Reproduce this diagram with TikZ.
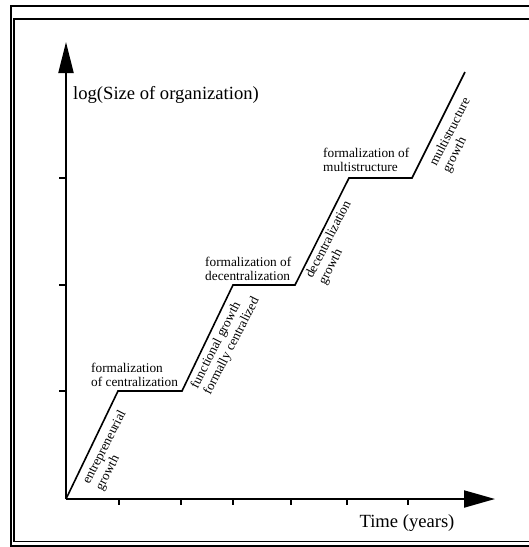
\documentclass[tikz,border=0pt]{standalone}
\usepackage{fontspec}
\setmainfont{Liberation Serif}
\usetikzlibrary{arrows.meta}
\begin{document}
\begin{tikzpicture}[x=1pt,y=-1pt,
  axis/.style={line width=2pt},
  growthline/.style={line width=1.6pt, line join=miter},
  tickmark/.style={line width=2pt},
  frameline/.style={line width=1.3pt},
  stage/.style={font=\fontsize{13.3}{14.5}\selectfont, align=left, inner sep=0pt, anchor=west},
  slopelabel/.style={stage, rotate=63},
  axislabel/.style={font=\fontsize{18.6}{20}\selectfont, inner sep=0pt},
]
\useasboundingbox (0,0) rectangle (529,547);

% double frame (right side runs off the page)
\draw[frameline] (540,6) -- (11,6) -- (11,546) -- (540,546);
\draw[frameline] (540,19) -- (14,19) -- (14,541.5) -- (540,541.5);

% axes
\coordinate (o) at (66,499);
\coordinate (ytop) at (66,42);
\coordinate (xend) at (495,499);
\draw[axis,-{Triangle[length=31pt,width=15pt]}] (o) -- (ytop);
\draw[axis,-{Triangle[length=31pt,width=17pt]}] (o) -- (xend);

% ticks on the time axis
\foreach \tx in {119,181,233,291,347,408}
  \draw[tickmark] (\tx,499) -- (\tx,505);
% ticks on the size axis
\foreach \ty in {391,285,178}
  \draw[tickmark] (59,\ty) -- (66,\ty);

\node[axislabel, anchor=base west] (ylab) at (73,99) {log(Size of organization)};
\node[axislabel, anchor=base] (xlab) at (407,527) {Time (years)};

% staircase of growth and formalization
\coordinate (p1) at (118,391);
\coordinate (p2) at (182,391);
\coordinate (p3) at (233,285);
\coordinate (p4) at (295,285);
\coordinate (p5) at (349,178);
\coordinate (p6) at (412,178);
\coordinate (p7) at (465,72);
\draw[growthline] (o) -- (p1) -- (p2) -- (p3) -- (p4) -- (p5) -- (p6) -- (p7);

% phase labels
\node[slopelabel] (s1) at (93,487) {entrepreneurial\\growth};
\node[stage] (f1) at (91,375) {formalization\\of centralization};
\node[slopelabel] (s2) at (201,391) {functional growth\\formally centralized};
\node[stage] (f2) at (205,269) {formalization of\\decentralization};
\node[slopelabel] (s3) at (316,281) {decentralization\\growth};
\node[stage] (f3) at (323,160) {formalization of\\multistructure};
\node[slopelabel] (s4) at (440,169) {multistructure\\growth};
\end{tikzpicture}
\end{document}
